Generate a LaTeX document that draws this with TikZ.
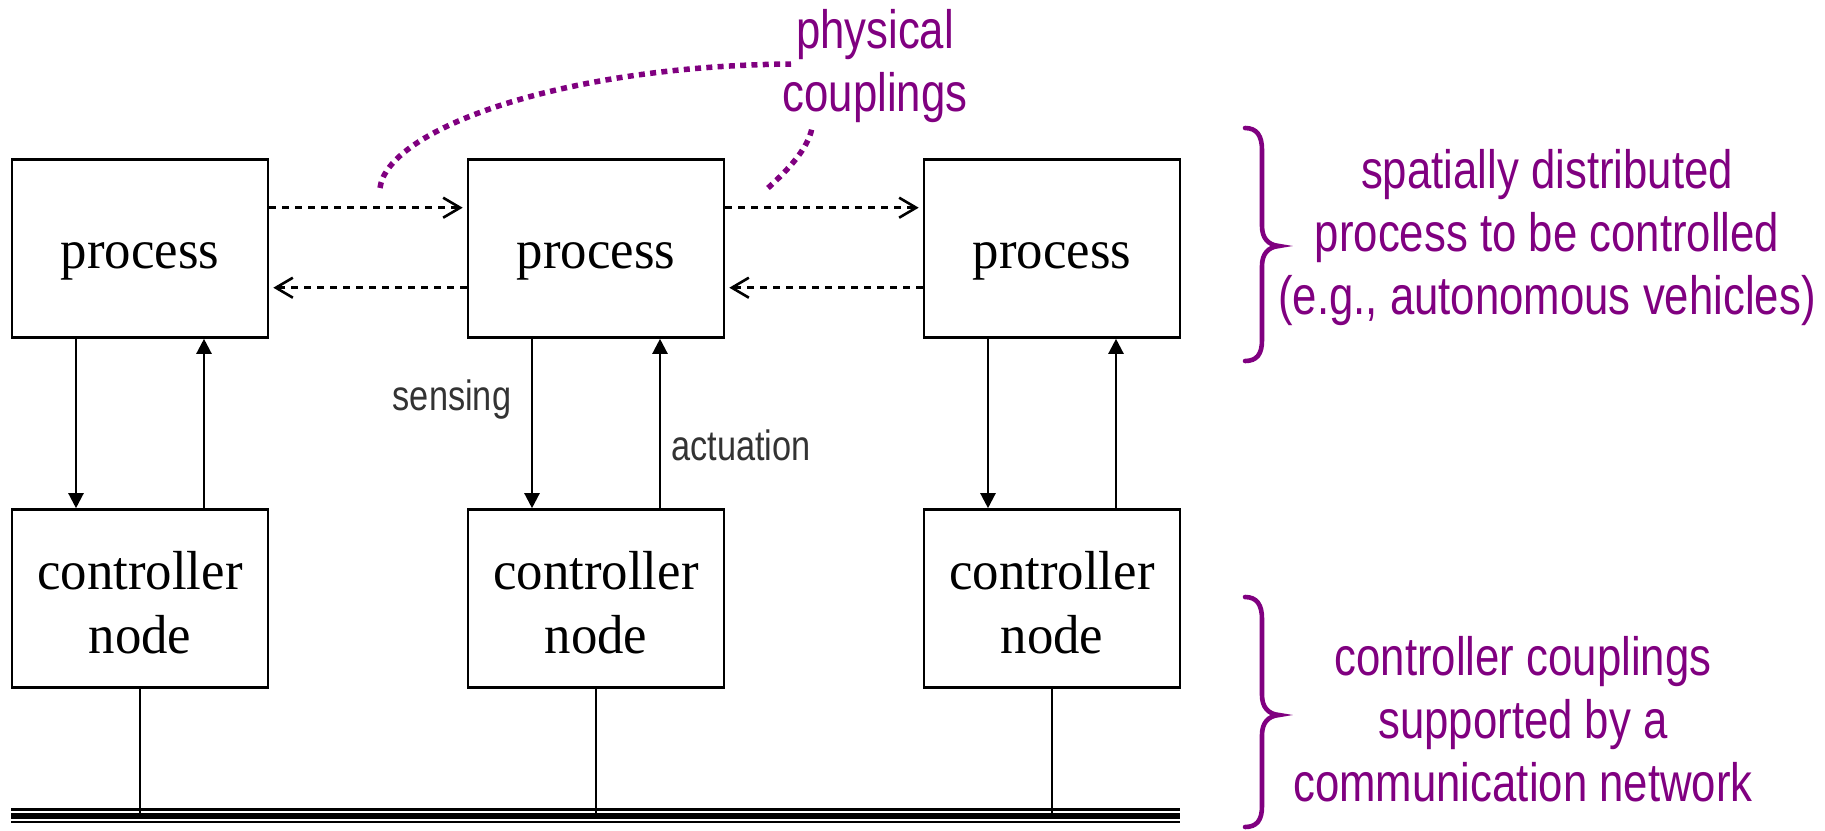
\documentclass[tikz,border=0pt]{standalone}
\usepackage{fontspec}
\setmainfont{Liberation Serif}[FakeStretch=0.96]
\newfontfamily\notefont{Liberation Sans}[FakeStretch=0.81]
\usetikzlibrary{arrows.meta}
\definecolor{annot}{HTML}{800080}
\definecolor{labelgray}{HTML}{333333}
\newcommand{\lowered}[2]{\raisebox{-#1}[\height][\depth]{#2}}

\begin{document}
\begin{tikzpicture}[x=0.5pt,y=-0.5pt,
  block/.style={draw=black, line width=1.3pt, minimum width=128pt, minimum height=89pt,
    inner sep=0pt, align=center, font=\fontsize{27.5}{32}\selectfont},
  signal/.style={line width=1.15pt, -{Triangle[length=7.5pt,width=7.5pt]}},
  coupling/.style={line width=1.3pt, dash pattern=on 3.5pt off 3pt,
    -{Straight Barb[length=8.5pt,width=10pt,line width=1.3pt]}},
  note/.style={text=annot, align=center, font=\notefont\fontsize{27}{31.5}\selectfont},
  pointer/.style={draw=annot, line width=2.75pt, dash pattern=on 3pt off 2.65pt},
  bracket/.style={draw=annot, line width=2.3pt, line cap=round},
  io/.style={text=labelgray, anchor=base, font=\notefont\fontsize{21.2}{24}\selectfont},
  bus/.style={draw=black}
]
\useasboundingbox (0,0) rectangle (1825,830);

% three process / controller columns
\foreach \i/\cx in {1/140, 2/596, 3/1052} {
  \node[block] (p\i) at (\cx, 248.5) {\lowered{6.6pt}{process}};
  \node[block] (c\i) at (\cx, 598.5) {\lowered{2pt}{controller}\\\lowered{2pt}{node}};
  \coordinate (b\i) at (\cx, 813);
}

% sensing and actuation loops
\foreach \i in {1,2,3} {
  \draw[signal] ([xshift=-32pt]p\i.south) -- ([xshift=-32pt]c\i.north);
  \draw[signal] ([xshift=32pt]c\i.north) -- ([xshift=32pt]p\i.south);
  \draw[line width=1.15pt] (c\i.south) -- (b\i);
}

% physical couplings between neighbouring processes
\foreach \a/\b in {1/2, 2/3} {
  \draw[coupling] ([yshift=20.4pt]p\a.east) -- ([yshift=20.4pt,xshift=-2pt]p\b.west);
  \draw[coupling] ([yshift=-19.6pt]p\b.west) -- ([yshift=-19.6pt,xshift=2pt]p\a.east);
}

% communication network
\coordinate (busL) at (11, 816);
\coordinate (busR) at (1180, 816);
\draw[bus, line width=1.2pt] ([yshift=3.25pt]busL) -- ([yshift=3.25pt]busR);
\draw[bus, line width=2.85pt] (busL) -- (busR);
\draw[bus, line width=1.15pt] ([yshift=-3.1pt]busL) -- ([yshift=-3.1pt]busR);

% labels on the loop of the middle column
\node[io] (sense) at (452, 410) {sensing};
\node[io] (act) at (741, 460) {actuation};

% annotations
\node[note] (phys) at (875, 66.5) {physical\\couplings};
\draw[pointer] (380,188) .. controls (387,130) and (560,66) .. (791,64);
\draw[pointer] (768,188) .. controls (790,168) and (808,148) .. (812,128);

\draw[bracket] (1245,128) .. controls (1257,128) and (1262,136) .. (1262,150)
  -- (1262,226) .. controls (1262,238) and (1268,245) .. (1279,246)
  .. controls (1268,247) and (1262,254) .. (1262,266)
  -- (1262,340) .. controls (1262,354) and (1257,361) .. (1245,361);
\node[note] (procnote) at (1547, 238) {spatially distributed\\process to be controlled\\(e.g., autonomous vehicles)};

\draw[bracket] (1245,597) .. controls (1257,597) and (1262,605) .. (1262,619)
  -- (1262,695) .. controls (1262,707) and (1268,714) .. (1279,715)
  .. controls (1268,716) and (1262,723) .. (1262,735)
  -- (1262,806) .. controls (1262,820) and (1257,827) .. (1245,827);
\node[note] (netnote) at (1523, 719) {controller couplings\\supported by a\\communication network};
\end{tikzpicture}
\end{document}
